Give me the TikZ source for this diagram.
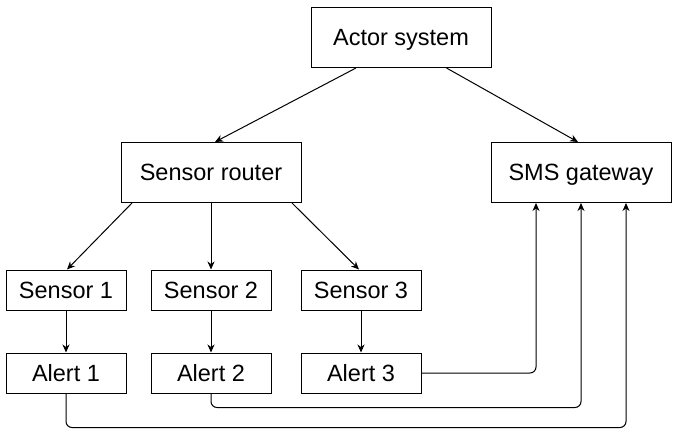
\documentclass[tikz,border=0pt]{standalone}
\usepackage{fontspec}
\setmainfont{Liberation Sans}
\usetikzlibrary{arrows.meta}
\begin{document}
\begin{tikzpicture}[x=1pt,y=-1pt,
  boxtext/.style={font=\fontsize{23.5}{28}\selectfont,text height=16.8pt,text depth=0pt},
  bigbox/.style={draw,line width=1pt,minimum width=180pt,minimum height=60pt,inner sep=0pt,boxtext},
  smallbox/.style={draw,line width=1pt,minimum width=120pt,minimum height=40pt,inner sep=0pt,boxtext},
  conn/.style={line width=1pt,-{Stealth[length=8pt,width=7pt,inset=2.5pt]}},
  route/.style={conn,rounded corners=6pt}]
\useasboundingbox (0,0) rectangle (673,436);
\node[bigbox] (actor) at (401,37.5) {Actor system};
\node[bigbox] (router) at (211,172.5) {Sensor router};
\node[bigbox] (sms) at (581,172.5) {SMS gateway};
\node[smallbox] (s1) at (66,290) {Sensor 1};
\node[smallbox] (s2) at (211,290) {Sensor 2};
\node[smallbox] (s3) at (361,290) {Sensor 3};
\node[smallbox] (a1) at (66,373) {Alert 1};
\node[smallbox] (a2) at (211,373) {Alert 2};
\node[smallbox] (a3) at (361,373) {Alert 3};
\draw[conn] ([xshift=-45pt]actor.south) -- ([xshift=4pt]router.north);
\draw[conn] ([xshift=45.5pt]actor.south) -- ([xshift=-3pt]sms.north);
\draw[conn] ([xshift=-79pt]router.south) -- ([xshift=1pt]s1.north);
\draw[conn] (router.south) -- (s2.north);
\draw[conn] ([xshift=81pt]router.south) -- ([xshift=-2pt]s3.north);
\draw[conn] (s1.south) -- (a1.north);
\draw[conn] (s2.south) -- (a2.north);
\draw[conn] (s3.south) -- (a3.north);
\draw[route] (a3.east) -| ([xshift=-45pt]sms.south);
\draw[route] (a2.south) -- ++(0,14) -| (sms.south);
\draw[route] (a1.south) -- ++(0,34) -| ([xshift=45pt]sms.south);
\end{tikzpicture}
\end{document}
